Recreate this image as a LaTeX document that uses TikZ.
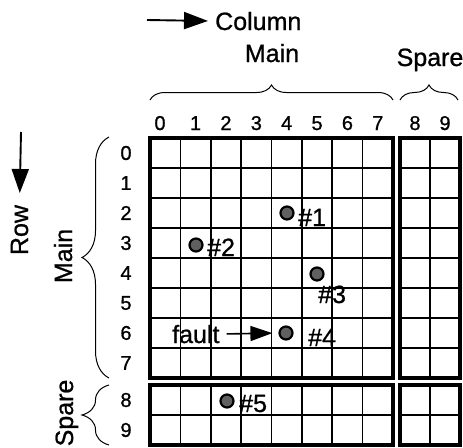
\documentclass[tikz,border=0pt]{standalone}
\usepackage{fontspec}
\setmainfont{Liberation Sans}[FakeBold=0.9]
\usetikzlibrary{decorations.pathreplacing,arrows.meta}

\begin{document}
\begin{tikzpicture}[x=1pt,y=-1pt,
  gridline/.style={line width=1.6pt},
  blockedge/.style={line width=3.3pt},
  bigarrow/.style={line width=1.9pt,-{Triangle[length=24pt,width=17pt]}},
  lbl/.style={font=\fontsize{25}{25}\selectfont,inner sep=0pt},
  idx/.style={font=\fontsize{20}{20}\selectfont,inner sep=0pt},
  curly/.style={decorate,decoration={brace,amplitude=#1},line width=1pt},
  cellmark/.style={circle,draw=black,line width=2.2pt,fill=gray!75!black,minimum size=13pt,inner sep=0pt}
]
\useasboundingbox (0,0) rectangle (463,447);

% ---- main array: 8 columns x 8 rows
\foreach \i in {1,...,7}
  \draw[gridline] ({150+\i*30.375},138) -- ({150+\i*30.375},378);
\foreach \j in {1,...,7}
  \draw[gridline] (150,{138+30*\j}) -- (393,{138+30*\j});
\draw[blockedge] (150,138) rectangle (393,378);

% ---- spare columns beside the main rows
\draw[gridline] (430,138) -- (430,378);
\foreach \j in {1,...,7}
  \draw[gridline] (400,{138+30*\j}) -- (460,{138+30*\j});
\draw[blockedge] (400,138) rectangle (460,378);

% ---- spare rows below the main columns
\foreach \i in {1,...,7}
  \draw[gridline] ({150+\i*30.375},385) -- ({150+\i*30.375},445);
\draw[gridline] (150,415) -- (393,415);
\draw[blockedge] (150,385) rectangle (393,445);

% ---- spare rows x spare columns
\draw[gridline] (430,385) -- (430,445);
\draw[gridline] (400,415) -- (460,415);
\draw[blockedge] (400,385) rectangle (460,445);

% ---- column indices
\node[idx,anchor=base] (c0) at (160,130) {0};
\foreach \i in {1,...,7}
  \node[idx,anchor=base] (c\i) at ({150+(\i+0.5)*30.375},130) {\i};
\node[idx,anchor=base] (c8) at (415,130) {8};
\node[idx,anchor=base] (c9) at (445,130) {9};

% ---- row indices
\foreach \j in {0,...,7}
  \node[idx] (r\j) at (126,{153+30*\j}) {\j};
\node[idx] (r8) at (126,400) {8};
\node[idx] (r9) at (126,430) {9};

% ---- column braces and headings
\draw[curly=15pt] (150,100) -- (393,100);
\draw[curly=15pt] (400,100) -- (458,100);
\node[lbl,anchor=base] (colmain) at (272,62) {Main};
\node[lbl,anchor=base] (colspare) at (430,66) {Spare};

% ---- row braces and headings
\draw[curly=27pt] (109,378) -- (109,137);
\draw[curly=27pt] (109,445) -- (109,385);
\node[lbl,anchor=base,rotate=90] (rowmain) at (72,256) {Main};
\node[lbl,anchor=base,rotate=90] (rowspare) at (73,413) {Spare};

% ---- direction arrows
\coordinate (colstart) at (147,20);
\node[lbl,anchor=base west] (column) at (215,30) {Column};
\draw[bigarrow,shorten >=7pt] (colstart) -- (column.west);

\coordinate (rowstart) at (21,132);
\node[lbl,anchor=base,rotate=90] (row) at (28,230) {Row};
\draw[bigarrow,shorten >=12pt] (rowstart) -- (row.east |- 0,205);

% ---- faulty cells
\node[cellmark] (d1) at (287,213) {};
\node[lbl,anchor=base west] (n1) at (298,226) {\#1};
\node[cellmark] (d2) at (196,245) {};
\node[lbl,anchor=base west] (n2) at (207,256) {\#2};
\node[cellmark] (d3) at (317,274) {};
\node[lbl,anchor=base west] (n3) at (318,303) {\#3};
\node[cellmark] (d4) at (286,333) {};
\node[lbl,anchor=base west] (n4) at (308,346) {\#4};
\node[cellmark] (d5) at (227,401) {};
\node[lbl,anchor=base west] (n5) at (239,412) {\#5};

\node[lbl,anchor=base west] (faultlbl) at (172,343) {fault};
\draw[bigarrow,line width=1.6pt,-{Triangle[length=22pt,width=15pt]},shorten <=7pt,shorten >=6pt]
  (faultlbl.east) -- (d4.west);
\end{tikzpicture}
\end{document}
